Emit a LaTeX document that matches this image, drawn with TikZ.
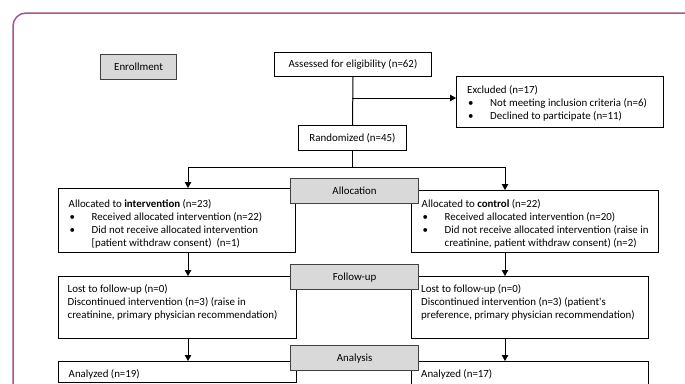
\documentclass[tikz,border=0pt]{standalone}
\usepackage{fontspec}
\setmainfont{Carlito}
\usetikzlibrary{arrows.meta}
\definecolor{framepink}{RGB}{168,84,142}
\definecolor{phasegray}{RGB}{217,217,217}
\newcommand{\itm}[1]{\hspace*{1pt}\makebox[22pt][l]{\textbullet}#1}
\newcommand{\ind}[1]{\hspace*{23pt}#1}
\tikzset{
  box/.style={draw=black, line width=1pt, anchor=north west, inner sep=0pt},
  phase/.style={draw=black!75, fill=phasegray, line width=1.2pt, anchor=north west, inner sep=0pt,
    minimum width=128, minimum height=25},
  txt/.style={anchor=north west, inner sep=0pt, align=left},
  arr/.style={-{Triangle[length=6pt,width=6.5pt]}, line width=1pt}
}

\begin{document}
\begin{tikzpicture}[x=1pt,y=-1pt,font=\fontsize{10.9}{13}\selectfont]
\useasboundingbox (0,0) rectangle (685,383);
\clip (0,0) rectangle (685,383);
\draw[framepink, line width=1.5pt, rounded corners=13pt] (13,13) rectangle (700,430);

% enrollment
\node[phase, minimum width=76] (enrol) at (100,54) {Enrollment};
\node[box, minimum width=157, minimum height=24] (assess) at (274,52) {Assessed for eligibility (n=62)};
\node[box, minimum width=207, minimum height=51] (excl) at (456,76) {};
\node[txt] (exclt) at (467,85) {Excluded (n=17)\\
  \itm{Not meeting inclusion criteria (n=6)}\\
  \itm{Declined to participate (n=11)}};
\node[box, minimum width=108, minimum height=25] (rand) at (298,125) {Randomized (n=45)};

% allocation
\node[box, minimum width=237, minimum height=64] (ialloc) at (58,188) {};
\node[txt] (iallocT) at (68.5,199) {Allocated to \textbf{intervention} (n=23)\\
  \itm{Received allocated intervention (n=22)}\\
  \itm{Did not receive allocated intervention}\\
  \ind{[patient withdraw consent)\ \ (n=1)}};
\node[box, minimum width=247, minimum height=62] (calloc) at (411,190) {};
\node[txt] (callocT) at (421.5,199) {Allocated to \textbf{control} (n=22)\\
  \itm{Received allocated intervention (n=20)}\\
  \itm{Did not receive allocated intervention (raise in}\\
  \ind{creatinine, patient withdraw consent) (n=2)}};

% follow-up
\node[box, minimum width=238, minimum height=62] (ifoll) at (58,276) {};
\node[txt] (ifollT) at (67.5,284) {Lost to follow-up (n=0)\\
  Discontinued intervention (n=3) (raise in\\
  creatinine, primary physician recommendation)};
\node[box, minimum width=237, minimum height=62] (cfoll) at (411,276) {};
\node[txt] (cfollT) at (421,284) {Lost to follow-up (n=0)\\
  Discontinued intervention (n=3) (patient\textquotesingle s\\
  preference, primary physician recommendation)};

% analysis
\node[box, minimum width=238, minimum height=21] (iana) at (58,361) {};
\node[txt] (ianaT) at (68.5,369.5) {Analyzed (n=19)};
\node[box, minimum width=237, minimum height=23] (cana) at (411,361) {};
\node[txt] (canaT) at (421,369.5) {Analyzed (n=17)};

\foreach \y/\t/\n in {178/Allocation/alloc,264/Follow-up/foll,345/Analysis/ana}{
  \node[phase] (\n) at (290,\y) {\t};
}

% connectors
\coordinate (split) at (352,98);
\coordinate (lcol) at (188,167);
\coordinate (rcol) at (505,167);
\draw[line width=1pt] (assess.south) -- (rand.north);
\draw[arr] (split) -- (split -| excl.west);
\draw[arr] (rand.south) |- (lcol) -- (lcol |- ialloc.north);
\draw[arr] (rand.south) |- (rcol) -- (rcol |- calloc.north);
\draw[arr] (lcol |- ialloc.south) -- (lcol |- ifoll.north);
\draw[arr] (rcol |- calloc.south) -- (rcol |- cfoll.north);
\draw[arr] (lcol |- ifoll.south) -- (lcol |- iana.north);
\draw[arr] (rcol |- cfoll.south) -- (rcol |- cana.north);
\end{tikzpicture}
\end{document}
